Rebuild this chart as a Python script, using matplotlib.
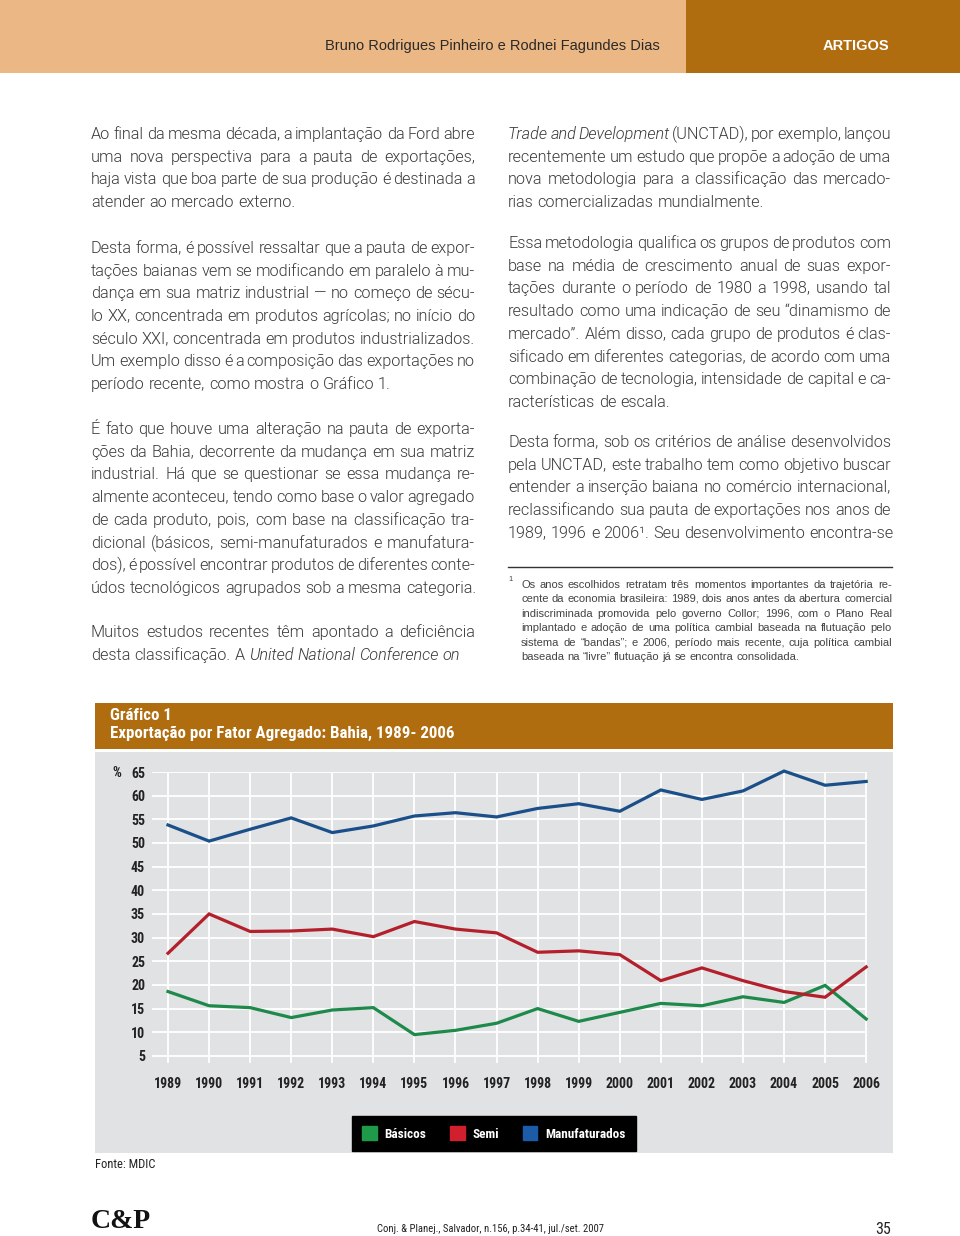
import math
import matplotlib
matplotlib.use("Agg")
import matplotlib.pyplot as plt
from matplotlib import font_manager
from matplotlib.backends.backend_agg import get_hinting_flag
from matplotlib.patches import Rectangle, Patch


# Dados do grafico, em %.
anos = list(range(1989, 2007))
basicos = [18.6, 15.6, 15.2, 13.1, 14.7, 15.2, 9.5, 10.4, 11.9,
           15.0, 12.3, 14.2, 16.1, 15.6, 17.5, 16.3, 19.9, 12.8]
semi = [26.7, 35.0, 31.3, 31.4, 31.8, 30.2, 33.4, 31.8, 31.0,
        26.9, 27.2, 26.4, 20.9, 23.6, 20.9, 18.6, 17.4, 23.8]
manufaturados = [53.8, 50.4, 52.9, 55.3, 52.2, 53.6, 55.7, 56.4, 55.5,
                 57.3, 58.3, 56.7, 61.2, 59.2, 61.0, 65.2, 62.2, 63.0]
series = ["Básicos", "Semi", "Manufaturados"]
cores_linha = ["#1d8a4b", "#b3202c", "#1b4f8a"]
cores_leg = ["#1e9a48", "#d21f2e", "#1c5ba8"]
yticks = list(range(5, 70, 5))

# Texto da pagina. "~" marca palavra em italico.
col_esq = [
    ["Ao final da mesma década, a implantação da Ford abre",
     "uma nova perspectiva para a pauta de exportações,",
     "haja vista que boa parte de sua produção é destinada a",
     "atender ao mercado externo."],
    ["Desta forma, é possível ressaltar que a pauta de expor-",
     "tações baianas vem se modificando em paralelo à mu-",
     "dança em sua matriz industrial — no começo de sécu-",
     "lo XX, concentrada em produtos agrícolas; no início do",
     "século XXI, concentrada em produtos industrializados.",
     "Um exemplo disso é a composição das exportações no",
     "período recente, como mostra o Gráfico 1."],
    ["É fato que houve uma alteração na pauta de exporta-",
     "ções da Bahia, decorrente da mudança em sua matriz",
     "industrial. Há que se questionar se essa mudança re-",
     "almente aconteceu, tendo como base o valor agregado",
     "de cada produto, pois, com base na classificação tra-",
     "dicional (básicos, semi-manufaturados e manufatura-",
     "dos), é possível encontrar produtos de diferentes conte-",
     "údos tecnológicos agrupados sob a mesma categoria."],
    ["Muitos estudos recentes têm apontado a deficiência",
     "desta classificação. A ~United ~National ~Conference ~on"],
]
y_esq = [134, 248, 429, 632]
col_dir = [
    ["~Trade ~and ~Development (UNCTAD), por exemplo, lançou",
     "recentemente um estudo que propõe a adoção de uma",
     "nova metodologia para a classificação das mercado-",
     "rias comercializadas mundialmente."],
    ["Essa metodologia qualifica os grupos de produtos com",
     "base na média de crescimento anual de suas expor-",
     "tações durante o período de 1980 a 1998, usando tal",
     "resultado como uma indicação de seu “dinamismo de",
     "mercado”. Além disso, cada grupo de produtos é clas-",
     "sificado em diferentes categorias, de acordo com uma",
     "combinação de tecnologia, intensidade de capital e ca-",
     "racterísticas de escala."],
    ["Desta forma, sob os critérios de análise desenvolvidos",
     "pela UNCTAD, este trabalho tem como objetivo buscar",
     "entender a inserção baiana no comércio internacional,",
     "reclassificando sua pauta de exportações nos anos de",
     "1989, 1996 e 2006¹. Seu desenvolvimento encontra-se"],
]
y_dir = [134, 243, 442]
nota = ["Os anos escolhidos retratam três momentos importantes da trajetória re-",
        "cente da economia brasileira: 1989, dois anos antes da abertura comercial",
        "indiscriminada promovida pelo governo Collor; 1996, com o Plano Real",
        "implantado e adoção de uma política cambial baseada na flutuação pelo",
        "sistema de “bandas”; e 2006, período mais recente, cuja política cambial",
        "baseada na “livre” flutuação já se encontra consolidada."]


# Escolho as fontes que existirem.
lista = font_manager.fontManager.ttflist


def peso_num(w):
    if isinstance(w, str):
        return font_manager.weight_dict.get(w, 400)
    return w


def existe(nome, peso=None):
    for f in lista:
        if f.name == nome and (peso is None or peso_num(f.weight) == peso):
            return True
    return False


fam_txt, peso_txt = "Liberation Sans", "normal"
for nome in ["Roboto", "Open Sans", "Inter", "Lato"]:
    if existe(nome, 300):
        fam_txt, peso_txt = nome, 300
        break

fam_cond, larg_cond = "DejaVu Sans", "condensed"
for nome in ["Liberation Sans Narrow", "Roboto Condensed"]:
    if existe(nome):
        fam_cond, larg_cond = nome, "normal"
        break
cond = dict(family=fam_cond, stretch=larg_cond)

W, H = 960, 1236
fig = plt.figure(figsize=(9.6, 12.36), dpi=100)
page = fig.add_axes([0, 0, 1, 1])
page.set_xlim(0, W)
page.set_ylim(H, 0)
page.axis("off")
rend = fig.canvas.get_renderer()

# Cabecalho.
page.add_patch(Rectangle((0, 0), 686, 73, color="#ebb784", lw=0))
page.add_patch(Rectangle((686, 0), W - 686, 73, color="#b06d10", lw=0))
page.text(660, 46, "Bruno Rodrigues Pinheiro e Rodnei Fagundes Dias", ha="right",
          va="center", fontsize=10.5, color="#2a2a2a", family="Liberation Sans")
page.text(856, 46, "ARTIGOS", ha="center", va="center", fontsize=10.5,
          color="white", weight="bold", family="Liberation Sans")


def largura(s, fs, fam, peso):
    t = page.text(0, 0, s, fontsize=fs, family=fam, weight=peso)
    w = t.get_window_extent(rend).width
    t.remove()
    return w


# Desvio para que a linha de base de cada palavra caia no mesmo pixel.
def desvio(s, prop):
    try:
        font = rend._prepare_font(prop)
        font.set_text(s, 0, flags=get_hinting_flag())
        d = font.get_descent() / 64.0
        h = font.get_width_height()[1] / 64.0
        return math.floor(h) - math.floor(h - d) - d
    except Exception:
        return 0.0


# Escreve uma linha palavra por palavra (justificada ou nao).
def linha(x, y, txt, larg, justifica, fs, fam, peso, cor):
    itens = []
    for p in txt.split(" "):
        itens.append((p.lstrip("~"), "italic" if p.startswith("~") else "normal"))
    ts = [page.text(0, y, p, fontsize=fs, family=fam, weight=peso, style=s,
                    color=cor, va="baseline", ha="left") for p, s in itens]
    ws = [t.get_window_extent(rend).width for t in ts]
    if justifica and len(ts) > 1:
        gap = (larg - sum(ws)) / (len(ts) - 1)
    else:
        gap = largura("a a", fs, fam, peso) - largura("aa", fs, fam, peso)
    cx = x
    for t, w in zip(ts, ws):
        t.set_position((cx, y + desvio(t.get_text(), t.get_fontproperties())))
        cx += w + gap


def coluna(x, paragrafos, ys, larg, fs=11.7, passo=22.7):
    for par, y0 in zip(paragrafos, ys):
        for i, txt in enumerate(par):
            linha(x, round(y0 + 5 + i * passo), txt, larg, i < len(par) - 1, fs,
                  fam_txt, peso_txt, "#3a3a3a")


coluna(91, col_esq, y_esq, 384)
coluna(508, col_dir, y_dir, 383)

# Nota de rodape.
page.plot([508, 892], [567, 567], color="#333333", lw=1)
page.text(508, 581, "1", fontsize=5.5, color="#444444", family="Liberation Sans",
          va="baseline")
for i, txt in enumerate(nota):
    linha(521, round(587.5 + i * 14.6), txt, 371, i < len(nota) - 1, 8.05,
          "Liberation Sans", "normal", "#444444")

# Caixa do grafico.
page.add_patch(Rectangle((95, 703), 798, 46, color="#b06d10", lw=0))
page.add_patch(Rectangle((95, 752), 798, 401, color="#e1e2e3", lw=0))
page.text(110, 715, "Gráfico 1", color="white", fontsize=12.2, weight="bold",
          va="center", **cond)
page.text(110, 733, "Exportação por Fator Agregado: Bahia, 1989- 2006", color="white",
          fontsize=12.2, weight="bold", va="center", **cond)
page.text(112, 773, "%", fontsize=10, weight="bold", color="#222222", va="center", **cond)
page.text(95, 1165, "Fonte: MDIC", fontsize=9, color="#222222", va="center", **cond)

# Rodape.
page.text(91, 1222, "C&P", fontsize=20, weight="bold", family="Liberation Serif",
          va="center", color="#111111")
page.text(377, 1229, "Conj. & Planej., Salvador, n.156, p.34-41, jul./set. 2007",
          fontsize=7.7, va="center", color="#222222", **cond)
page.text(891, 1229, "35", fontsize=11.5, ha="right", va="center", color="#222222", **cond)

# Grafico.
ax = fig.add_axes([152 / W, 1 - 1063 / H, (867 - 152) / W, (1063 - 772) / H])
ax.set_facecolor("none")
for s in ax.spines.values():
    s.set_visible(False)
ax.set_xlim(1988.61, 2006.02)
ax.set_ylim(3.5, 65)
ax.set_xticks(anos)
ax.set_yticks(yticks)
ax.grid(color="white", lw=1.3)
ax.set_axisbelow(True)
ax.tick_params(length=0, colors="#222222")
ax.tick_params(axis="y", pad=5)
ax.tick_params(axis="x", pad=10)
for lab in ax.get_xticklabels() + ax.get_yticklabels():
    lab.set_fontsize(10)
    lab.set_fontweight("bold")
    lab.set_family(fam_cond)
    lab.set_stretch(larg_cond)

for vals, cor in zip([basicos, semi, manufaturados], cores_linha):
    ax.plot(anos, vals, color=cor, lw=2.3, clip_on=False, solid_joinstyle="miter")

handles = [Patch(facecolor=c, edgecolor=c, label=n) for n, c in zip(series, cores_leg)]
leg = fig.legend(handles=handles, loc="center", bbox_to_anchor=(494 / W, 1 - 1133.5 / H),
                 ncol=3, frameon=True, fancybox=False, facecolor="black", edgecolor="black",
                 framealpha=1, handlelength=1.1, handleheight=1.2, handletextpad=0.6,
                 columnspacing=1.8, borderpad=0.8,
                 prop=font_manager.FontProperties(family=fam_cond, stretch=larg_cond,
                                                  weight="bold", size=9.5))
for t in leg.get_texts():
    t.set_color("white")

fig.savefig("out.png", dpi=100)
